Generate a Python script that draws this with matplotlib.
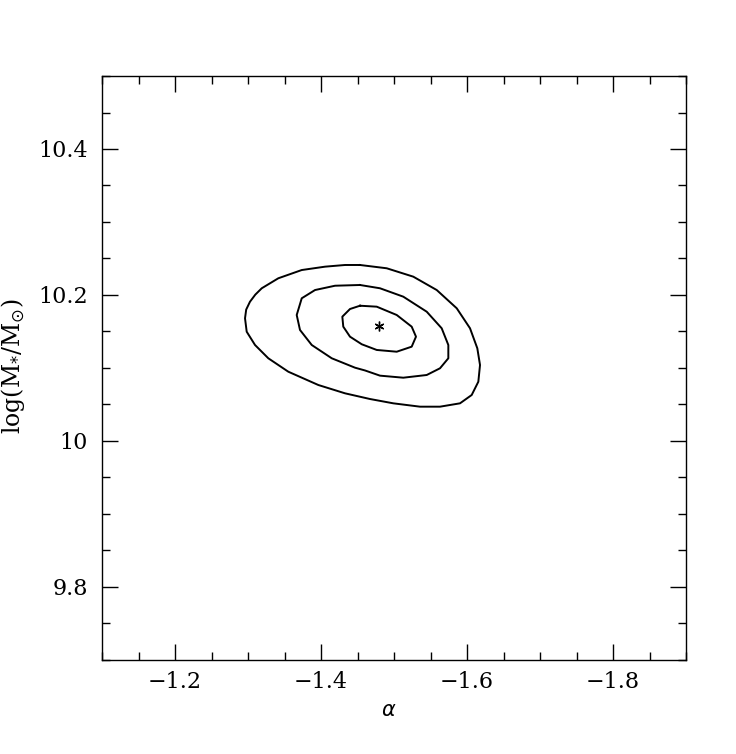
import matplotlib
matplotlib.use('Agg')
import matplotlib.pyplot as plt
from matplotlib.ticker import MultipleLocator

# best fit point
best_alpha = -1.480
best_logm = 10.158

# confidence contours (alpha, log M*)
outer_alpha = [-1.4534, -1.4900, -1.5264, -1.5585, -1.5859, -1.6041, -1.6141, -1.6178,
               -1.6155, -1.6064, -1.5904, -1.5630, -1.5356, -1.4990, -1.4671, -1.4329,
               -1.3963, -1.3552, -1.3278, -1.3096, -1.2982, -1.2959, -1.2975, -1.3027,
               -1.3100, -1.3188, -1.3415, -1.3736, -1.4055, -1.4329, -1.4534]
outer_logm = [10.2411, 10.2366, 10.2251, 10.2068, 10.1818, 10.1544, 10.1270, 10.1041,
              10.0812, 10.0630, 10.0516, 10.0470, 10.0470, 10.0516, 10.0575, 10.0653,
              10.0767, 10.0949, 10.1133, 10.1315, 10.1497, 10.1681, 10.1800, 10.1908,
              10.2005, 10.2092, 10.2229, 10.2342, 10.2388, 10.2411, 10.2411]

mid_alpha = [-1.4534, -1.4808, -1.5127, -1.5448, -1.5653, -1.5744, -1.5744, -1.5630,
             -1.5448, -1.5127, -1.4808, -1.4603, -1.4466, -1.4147, -1.3873, -1.3712,
             -1.3667, -1.3736, -1.3918, -1.4192, -1.4534]
mid_logm = [10.2137, 10.2092, 10.1977, 10.1771, 10.1544, 10.1315, 10.1133, 10.0996,
            10.0904, 10.0867, 10.0895, 10.0966, 10.1004, 10.1133, 10.1315, 10.1521,
            10.1726, 10.1955, 10.2068, 10.2127, 10.2137]

inner_alpha = [-1.4534, -1.4763, -1.5037, -1.5242, -1.5301, -1.5242, -1.5037, -1.4763,
               -1.4558, -1.4397, -1.4305, -1.4292, -1.4397, -1.4534]
inner_logm = [10.1853, 10.1840, 10.1726, 10.1566, 10.1429, 10.1292, 10.1223, 10.1247,
              10.1325, 10.1429, 10.1566, 10.1703, 10.1808, 10.1853]

fig = plt.figure(figsize=(7.36, 7.54), dpi=100)
ax = fig.add_axes([0.1386, 0.1247, 0.7935, 0.7745])

for xs, ys in [(outer_alpha, outer_logm), (mid_alpha, mid_logm), (inner_alpha, inner_logm)]:
    ax.plot(xs, ys, color='black', linewidth=1.4, solid_joinstyle='round')

ax.plot([best_alpha], [best_logm], marker=(6, 2, 0), color='black',
        markersize=7, markeredgewidth=1.0, linestyle='none')

ax.set_xlim(-1.1, -1.9)
ax.set_ylim(9.7, 10.5)
ax.xaxis.set_minor_locator(MultipleLocator(0.05))
ax.yaxis.set_minor_locator(MultipleLocator(0.05))
ax.set_xticks([-1.2, -1.4, -1.6, -1.8])
ax.set_xticklabels(['\u22121.2', '\u22121.4', '\u22121.6', '\u22121.8'])
ax.set_yticks([9.8, 10.0, 10.2, 10.4])
ax.set_yticklabels(['9.8', '10', '10.2', '10.4'])

ax.tick_params(which='both', direction='in', top=True, right=True, width=1.0)
ax.tick_params(which='major', length=11.5)
ax.tick_params(which='minor', length=5.8)
ax.tick_params(axis='x', pad=8)
ax.tick_params(axis='y', pad=10)
for lab in ax.get_xticklabels() + ax.get_yticklabels():
    lab.set_fontfamily('DejaVu Serif')
    lab.set_fontsize(16)
for sp in ax.spines.values():
    sp.set_linewidth(1.0)

fig.text(0.528, 0.058, r'$\alpha$', fontsize=15, ha='center', va='center')
fig.text(0.017, 0.515, r'log(M$_{*}$/M$_{\odot}$)', rotation=90, fontsize=17,
         ha='center', va='center', family='DejaVu Serif')

fig.savefig('out.png', dpi=100)
